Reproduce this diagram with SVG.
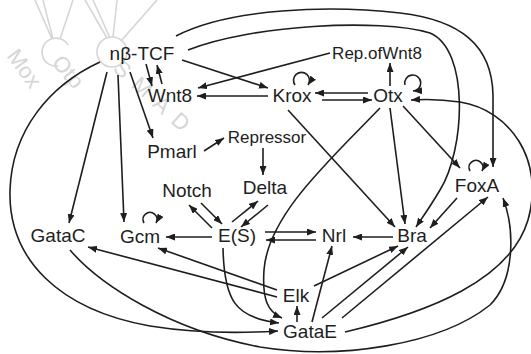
<svg xmlns="http://www.w3.org/2000/svg" width="531" height="354" viewBox="0 0 531 354">
<style>
.wm{fill:none;stroke:#d6d6d6;stroke-width:1.6}
.wmt{fill:#d6d6d6;font-family:"Liberation Sans",Arial,sans-serif;font-size:22px}
.lbl{fill:#1e1e1e;font-family:"Liberation Sans",Arial,sans-serif;font-size:19px;text-anchor:middle}
.sm{font-size:17px}
.c{fill:none;stroke:#1e1e1e;stroke-width:1.6;marker-end:url(#ah)}
</style>
<defs>
<marker id="ah" markerUnits="userSpaceOnUse" markerWidth="9" markerHeight="7" refX="9" refY="3.5" orient="auto">
<path d="M0,0 L9,3.5 L0,7 z" fill="#1e1e1e"/>
</marker>
</defs>
<rect width="531" height="354" fill="#fff"/>
<g id="watermark">
<path class="wm" d="M68,45 A14,14 0 1 0 58,66"/>
<circle class="wm" cx="112" cy="52" r="15"/>
<path class="wm" d="M35,0 L52,39 M43,0 L53,39 M73,0 L60,39 M85,0 L107,38 M93,0 L110,38 M117,0 L113,37 M157,0 L121,41"/>
<text class="wmt" transform="translate(6,56) rotate(54)">Mox</text>
<text class="wmt" transform="translate(51,63) rotate(50)">Otp</text>
<text class="wmt" transform="translate(112,70) rotate(42)" letter-spacing="10">SMAD</text>
</g>
<g id="connectors">
<path class="c" d="M146,64 L152,86"/>
<path class="c" d="M162,84 L157,65"/>
<path class="c" d="M182,60 L268,88"/>
<path class="c" d="M268,96 L197,96"/>
<path class="c" d="M330,53 L198,88"/>
<path class="c" d="M390,86 L390,63"/>
<path class="c" d="M295,85 A8,8 0 1 1 308,85"/>
<path class="c" d="M405,85 A8,8 0 1 1 413,91"/>
<path class="c" d="M368,93 L315,93"/>
<path class="c" d="M322,100 L372,100"/>
<path class="c" d="M176,36 C230,8 330,5 400,13 C460,20 492,45 493,95 L493,167"/>
<path class="c" d="M188,50 C250,25 380,18 430,33 C470,50 465,150 440,190 C430,207 422,218 416,227"/>
<path class="c" d="M100,62 C50,85 12,130 10,190 C8,260 60,310 150,326 C200,334 245,333 278,331"/>
<path class="c" d="M288,110 L395,227"/>
<path class="c" d="M390,108 L405,224"/>
<path class="c" d="M403,106 L460,168"/>
<path class="c" d="M470,171 A7,7 0 1 1 482,171"/>
<path class="c" d="M457,198 L430,228"/>
<path class="c" d="M342,318 L488,197"/>
<path class="c" d="M322,318 L408,247"/>
<path class="c" d="M314,286 L398,246"/>
<path class="c" d="M312,322 L332,246"/>
<path class="c" d="M297,322 L297,306"/>
<path class="c" d="M393,237 L353,237"/>
<path class="c" d="M265,232 L316,232"/>
<path class="c" d="M316,240 L266,240"/>
<path class="c" d="M212,237 L166,237"/>
<path class="c" d="M201,203 L222,224"/>
<path class="c" d="M212,228 L189,205"/>
<path class="c" d="M232,222 L258,201"/>
<path class="c" d="M268,205 L241,227"/>
<path class="c" d="M263,148 L263,175"/>
<path class="c" d="M204,151 L224,138"/>
<path class="c" d="M130,72 L153,138"/>
<path class="c" d="M118,75 L124,222"/>
<path class="c" d="M107,72 L69,223"/>
<path class="c" d="M144,223 A7,7 0 1 1 156,223"/>
<path class="c" d="M277,290 L158,248"/>
<path class="c" d="M277,297 L88,247"/>
<path class="c" d="M223,248 C224,300 235,318 279,323"/>
<path class="c" d="M380,108 C330,160 268,215 264,270 C262,300 268,312 282,318"/>
<path class="c" d="M70,250 C100,285 170,330 260,347 C340,360 440,345 490,305 C515,280 515,230 503,198"/>
<path class="c" d="M345,332 C430,312 510,280 528,220 C545,160 510,110 460,102 C440,99 425,99 411,100"/>
</g>
<g id="n-nbTCF"><text class="lbl" x="142" y="60">nβ-TCF</text></g>
<g id="n-Wnt8"><text class="lbl" x="170" y="102">Wnt8</text></g>
<g id="n-Krox"><text class="lbl" x="292" y="102">Krox</text></g>
<g id="n-Otx"><text class="lbl" x="388" y="102">Otx</text></g>
<g id="n-RepOfWnt8"><text class="lbl sm" x="377" y="59">Rep.ofWnt8</text></g>
<g id="n-Pmarl"><text class="lbl" x="172" y="158">Pmarl</text></g>
<g id="n-Repressor"><text class="lbl sm" x="267" y="143">Repressor</text></g>
<g id="n-Notch"><text class="lbl" x="187" y="197">Notch</text></g>
<g id="n-Delta"><text class="lbl" x="265" y="194">Delta</text></g>
<g id="n-ES"><text class="lbl" x="237" y="242">E(S)</text></g>
<g id="n-GataC"><text class="lbl" x="58" y="242">GataC</text></g>
<g id="n-Gcm"><text class="lbl" x="140" y="243">Gcm</text></g>
<g id="n-Nrl"><text class="lbl" x="334" y="242">Nrl</text></g>
<g id="n-Bra"><text class="lbl" x="412" y="242">Bra</text></g>
<g id="n-FoxA"><text class="lbl" x="477" y="192">FoxA</text></g>
<g id="n-Elk"><text class="lbl" x="296" y="302">Elk</text></g>
<g id="n-GataE"><text class="lbl" x="310" y="338">GataE</text></g>
</svg>
